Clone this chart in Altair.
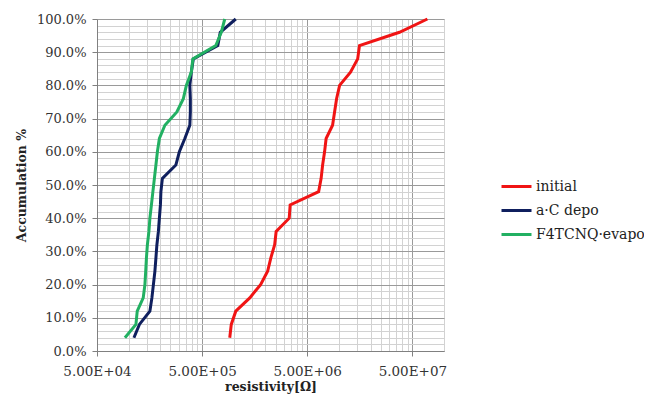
import altair as alt
import pandas as pd

# cumulative accumulation levels (%)
accumulation = [4, 8, 12, 16, 20, 24, 28, 32, 36, 40, 44, 48, 52,
                56, 60, 64, 68, 72, 76, 80, 84, 88, 92, 96, 100]

# resistivity values (Ohm)
initial = [9.16e5, 9.47e5, 1.045e6, 1.42e6, 1.80e6, 2.10e6, 2.25e6, 2.45e6, 2.53e6,
           3.37e6, 3.44e6, 6.42e6, 6.78e6, 7.00e6, 7.31e6, 7.56e6, 8.71e6, 9.10e6,
           9.51e6, 1.016e7, 1.29e7, 1.51e7, 1.57e7, 3.77e7, 6.95e7]
ac_depo = [1.123e5, 1.266e5, 1.593e5, 1.664e5, 1.720e5, 1.777e5, 1.817e5, 1.857e5,
           1.919e5, 1.961e5, 2.005e5, 2.027e5, 2.094e5, 2.813e5, 3.037e5, 3.424e5,
           3.821e5, 3.863e5, 3.863e5, 3.821e5, 3.948e5, 4.125e5, 7.05e5, 7.44e5, 1.045e6]
f4tcnq = [9.22e4, 1.173e5, 1.207e5, 1.376e5, 1.428e5, 1.453e5, 1.476e5, 1.508e5,
          1.559e5, 1.593e5, 1.647e5, 1.701e5, 1.758e5, 1.817e5, 1.877e5, 1.961e5,
          2.212e5, 2.875e5, 3.314e5, 3.540e5, 3.948e5, 4.081e5, 6.75e5, 7.61e5, 8.21e5]

series_names = ["initial", "a·C depo", "F4TCNQ·evapo"]
series_colors = ["#f01414", "#0f1f5e", "#22b062"]

x_major = [5e4, 5e5, 5e6, 5e7]
x_mult = [1, 2, 3, 4, 5, 6, 7, 8, 9]
y_major = list(range(0, 101, 10))
y_minor = list(range(0, 101, 2))

rows = []
for name, vals in zip(series_names, [initial, ac_depo, f4tcnq]):
    for i, (a, v) in enumerate(zip(accumulation, vals)):
        rows.append({"series": name, "acc": a, "res": v, "idx": i})
df = pd.DataFrame(rows)

x_minor = [m * k for m in x_major for k in x_mult] + [1e8]

FONT = "DejaVu Serif"
xscale = alt.Scale(type="log", domain=[5e4, 1e8], nice=False)
yscale = alt.Scale(domain=[0, 100], nice=False)

minor = alt.Chart(df).mark_point(opacity=0).encode(
    x=alt.X("res:Q", scale=xscale,
            axis=alt.Axis(values=x_minor, grid=True, gridColor="#d2d2d2", gridWidth=1,
                          labels=False, ticks=False, domain=False, title=None,
                          orient="bottom")),
    y=alt.Y("acc:Q", scale=yscale,
            axis=alt.Axis(values=y_minor, grid=True, gridColor="#d2d2d2", gridWidth=1,
                          labels=False, ticks=False, domain=False, title=None,
                          orient="left")),
)

major = alt.Chart(df).mark_line(strokeWidth=3).encode(
    x=alt.X("res:Q", scale=xscale,
            axis=alt.Axis(values=x_major, grid=True, gridColor="#9a9a9a", gridWidth=1,
                          labelExpr="'5.00E+0' + floor(log(datum.value)/LN10 + 1e-6)",
                          labelFlush=False, labelOverlap=False,
                          ticks=True, tickSize=5, tickColor="#808080",
                          domain=True, domainColor="#808080",
                          labelPadding=8, labelFont=FONT, labelFontSize=13.5,
                          labelColor="#333333",
                          title="resistivity[Ω]", titleFont=FONT, titleFontSize=12.5,
                          titleFontWeight="bold", titleColor="#222222", titlePadding=3,
                          orient="bottom")),
    y=alt.Y("acc:Q", scale=yscale,
            axis=alt.Axis(values=y_major, grid=True, gridColor="#9a9a9a", gridWidth=1,
                          labelExpr="format(datum.value, '.1f') + '%'",
                          labelFlush=False, labelOverlap=False,
                          ticks=True, tickSize=5, tickColor="#808080",
                          domain=True, domainColor="#808080",
                          labelPadding=6, labelFont=FONT, labelFontSize=13,
                          labelColor="#333333",
                          title="Accumulation %", titleFont=FONT, titleFontSize=12.5,
                          titleFontWeight="bold", titleColor="#222222", titlePadding=8,
                          orient="left")),
    color=alt.Color("series:N",
                    scale=alt.Scale(domain=series_names, range=series_colors),
                    sort=series_names,
                    legend=alt.Legend(title=None, orient="none", legendX=403, legendY=151,
                                      symbolType="stroke", symbolSize=900,
                                      symbolStrokeWidth=3, labelFont=FONT,
                                      labelFontSize=14, labelColor="#222222",
                                      labelOffset=3, rowPadding=-3, padding=0)),
    order=alt.Order("idx:Q"),
)

chart = alt.layer(minor, major).resolve_axis(x="independent", y="independent").properties(
    width=347, height=332,
    autosize=alt.AutoSizeParams(type="none"),
    padding={"left": 89, "top": 11, "right": 200, "bottom": 45},
).configure_view(stroke=None).configure(background="white")

chart.save("out.html", embed_options={"renderer": "svg", "actions": False})
